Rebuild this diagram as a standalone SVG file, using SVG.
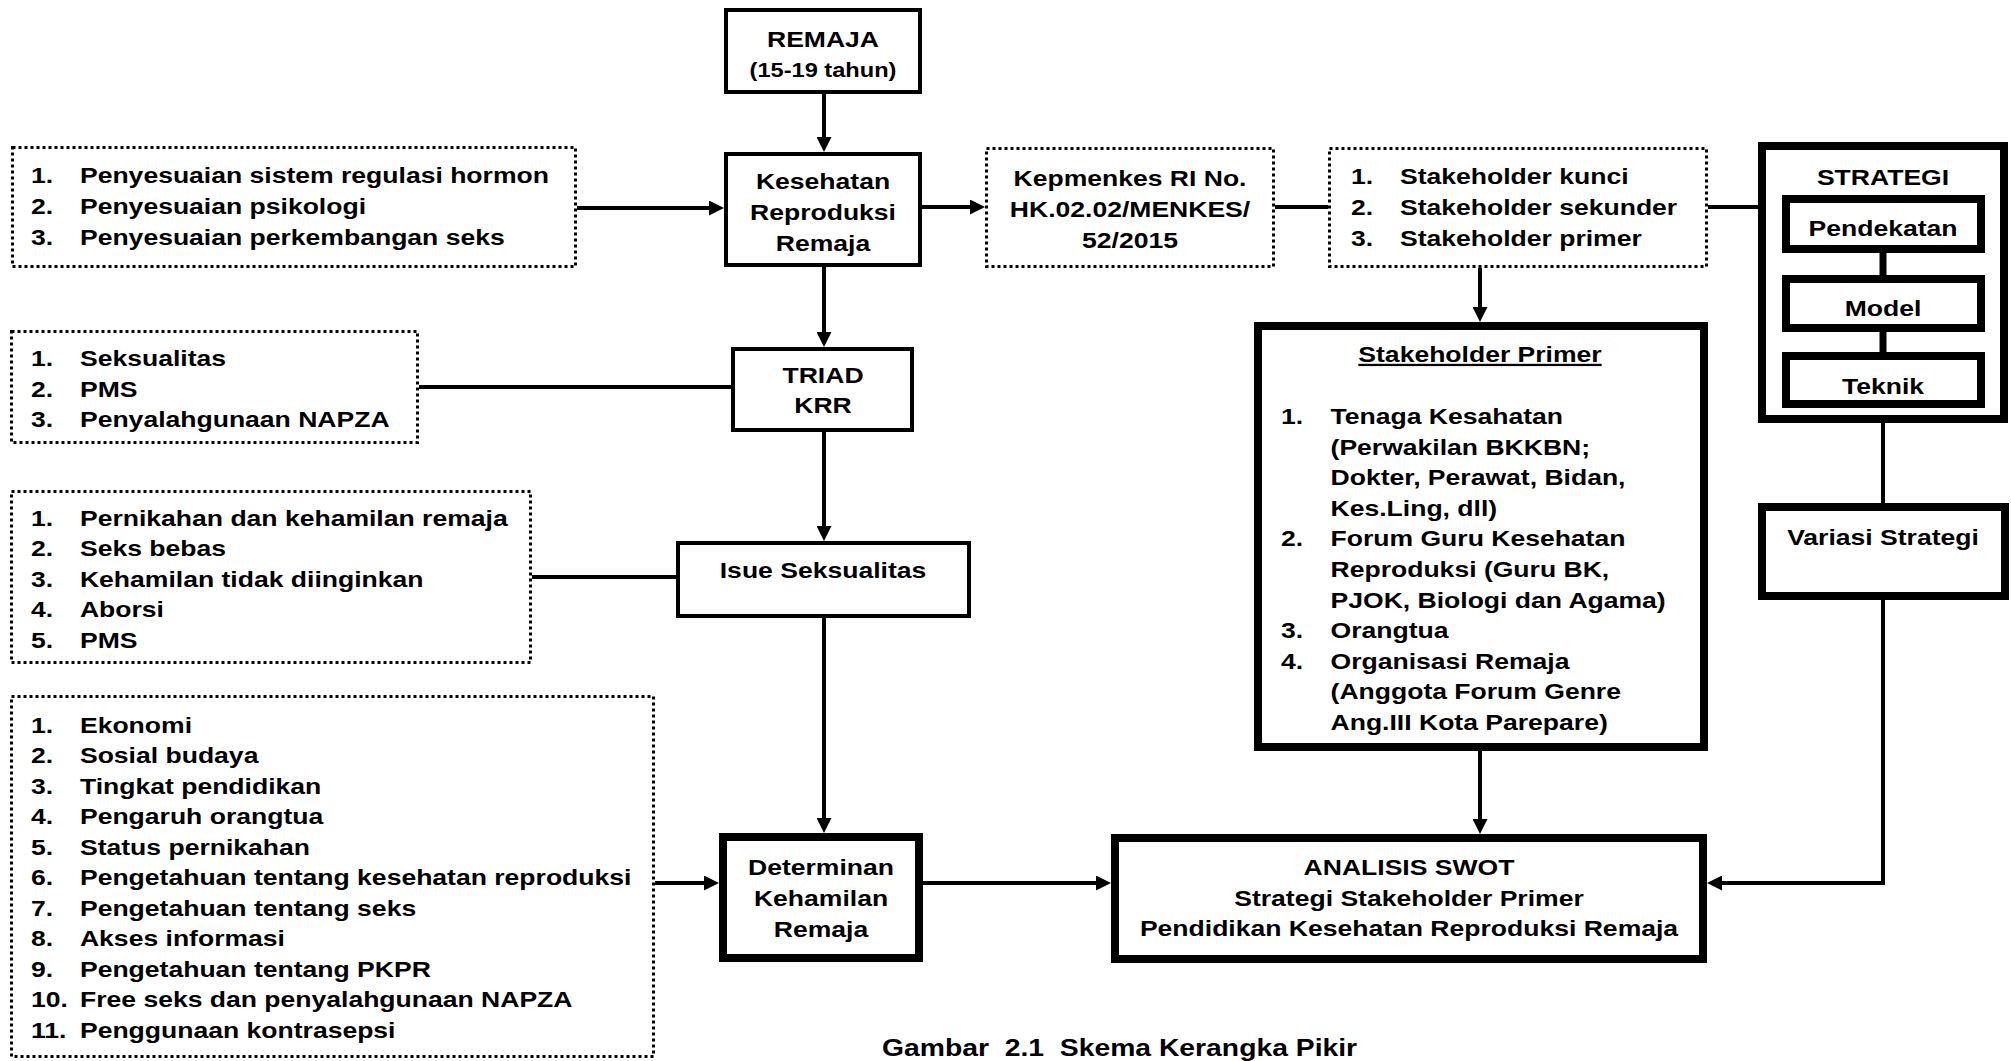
<svg xmlns="http://www.w3.org/2000/svg" width="2011" height="1061" viewBox="0 0 2011 1061">
<style>
text{font-family:"Liberation Sans",Arial,sans-serif;font-weight:bold;font-size:22.5px;fill:#000}
.c{text-anchor:middle}
.box{fill:#fff;stroke:#000;stroke-width:4}
.thick{fill:#fff;stroke:#000;stroke-width:8}
.dot{fill:#fff;stroke:#000;stroke-width:3;stroke-dasharray:3 3}
.con{fill:none;stroke:#000;stroke-width:4}
.lnk{fill:none;stroke:#000;stroke-width:7}
.arr{marker-end:url(#ah)}
.u{text-decoration:underline}
</style>
<defs>
<marker id="ah" markerUnits="userSpaceOnUse" markerWidth="15" markerHeight="15" refX="11" refY="7.5" orient="auto">
<path d="M0,0 L15,7.5 L0,15 z" fill="#000"/>
</marker>
</defs>
<rect width="2011" height="1061" fill="#fff"/>

<g id="remaja">
<rect class="box" x="726" y="10" width="194" height="82"/>
<text class="c" transform="translate(823,0) scale(1.18,1)"><tspan x="0" y="47">REMAJA</tspan><tspan x="0" y="77" style="font-size:20px">(15-19 tahun)</tspan></text>
</g>

<g id="kesehatan">
<rect class="box" x="726" y="154" width="194" height="111"/>
<text class="c" transform="translate(823,0) scale(1.18,1)"><tspan x="0" y="189">Kesehatan</tspan><tspan x="0" y="220">Reproduksi</tspan><tspan x="0" y="251">Remaja</tspan></text>
</g>

<g id="faktor-penyesuaian">
<rect class="dot" x="12.5" y="147.5" width="563" height="119"/>
<text transform="translate(31,0) scale(1.18,1)"><tspan x="0" y="183">1.</tspan><tspan x="41.5" y="183">Penyesuaian sistem regulasi hormon</tspan><tspan x="0" y="214">2.</tspan><tspan x="41.5" y="214">Penyesuaian psikologi</tspan><tspan x="0" y="245">3.</tspan><tspan x="41.5" y="245">Penyesuaian perkembangan seks</tspan></text>
</g>

<g id="kepmenkes">
<rect class="dot" x="986.5" y="148.5" width="287" height="118"/>
<text class="c" transform="translate(1130,0) scale(1.18,1)"><tspan x="0" y="186">Kepmenkes RI No.</tspan><tspan x="0" y="217">HK.02.02/MENKES/</tspan><tspan x="0" y="248">52/2015</tspan></text>
</g>

<g id="stakeholders">
<rect class="dot" x="1329.5" y="148.5" width="377" height="118"/>
<text transform="translate(1351,0) scale(1.18,1)"><tspan x="0" y="184">1.</tspan><tspan x="41.5" y="184">Stakeholder kunci</tspan><tspan x="0" y="215">2.</tspan><tspan x="41.5" y="215">Stakeholder sekunder</tspan><tspan x="0" y="246">3.</tspan><tspan x="41.5" y="246">Stakeholder primer</tspan></text>
</g>

<g id="strategi">
<rect class="thick" x="1762" y="146" width="242" height="273"/>
<text class="c" transform="translate(1883,0) scale(1.18,1)"><tspan x="0" y="185">STRATEGI</tspan></text>
</g>
<g id="pendekatan">
<rect class="thick" x="1786" y="199" width="195" height="50"/>
<text class="c" transform="translate(1883,0) scale(1.18,1)"><tspan x="0" y="236">Pendekatan</tspan></text>
</g>
<g id="model">
<rect class="thick" x="1786" y="279" width="195" height="49"/>
<text class="c" transform="translate(1883,0) scale(1.18,1)"><tspan x="0" y="316">Model</tspan></text>
</g>
<g id="teknik">
<rect class="thick" x="1786" y="356" width="195" height="48"/>
<text class="c" transform="translate(1883,0) scale(1.18,1)"><tspan x="0" y="394">Teknik</tspan></text>
<rect x="1786" y="400" width="195" height="8" fill="#000"/>
</g>

<g id="triad">
<rect class="box" x="733" y="349" width="179" height="81"/>
<text class="c" transform="translate(823,0) scale(1.18,1)"><tspan x="0" y="383">TRIAD</tspan><tspan x="0" y="413">KRR</tspan></text>
</g>

<g id="triad-list">
<rect class="dot" x="11.5" y="331.5" width="406" height="111"/>
<text transform="translate(31,0) scale(1.18,1)"><tspan x="0" y="366">1.</tspan><tspan x="41.5" y="366">Seksualitas</tspan><tspan x="0" y="397">2.</tspan><tspan x="41.5" y="397">PMS</tspan><tspan x="0" y="427">3.</tspan><tspan x="41.5" y="427">Penyalahgunaan NAPZA</tspan></text>
</g>

<g id="isue">
<rect class="box" x="678" y="543" width="291" height="73"/>
<text class="c" transform="translate(823,0) scale(1.18,1)"><tspan x="0" y="578">Isue Seksualitas</tspan></text>
</g>

<g id="isue-list">
<rect class="dot" x="11.5" y="491.5" width="519" height="171"/>
<text transform="translate(31,0) scale(1.18,1)"><tspan x="0" y="526">1.</tspan><tspan x="41.5" y="526">Pernikahan dan kehamilan remaja</tspan><tspan x="0" y="556.5">2.</tspan><tspan x="41.5" y="556.5">Seks bebas</tspan><tspan x="0" y="587">3.</tspan><tspan x="41.5" y="587">Kehamilan tidak diinginkan</tspan><tspan x="0" y="617.5">4.</tspan><tspan x="41.5" y="617.5">Aborsi</tspan><tspan x="0" y="648">5.</tspan><tspan x="41.5" y="648">PMS</tspan></text>
</g>

<g id="determinan-list">
<rect class="dot" x="11.5" y="696.5" width="642" height="360"/>
<text transform="translate(31,0) scale(1.18,1)"><tspan x="0" y="733">1.</tspan><tspan x="41.5" y="733">Ekonomi</tspan><tspan x="0" y="763.5">2.</tspan><tspan x="41.5" y="763.5">Sosial budaya</tspan><tspan x="0" y="794">3.</tspan><tspan x="41.5" y="794">Tingkat pendidikan</tspan><tspan x="0" y="824.5">4.</tspan><tspan x="41.5" y="824.5">Pengaruh orangtua</tspan><tspan x="0" y="855">5.</tspan><tspan x="41.5" y="855">Status pernikahan</tspan><tspan x="0" y="885.5">6.</tspan><tspan x="41.5" y="885.5">Pengetahuan tentang kesehatan reproduksi</tspan><tspan x="0" y="916">7.</tspan><tspan x="41.5" y="916">Pengetahuan tentang seks</tspan><tspan x="0" y="946.5">8.</tspan><tspan x="41.5" y="946.5">Akses informasi</tspan><tspan x="0" y="977">9.</tspan><tspan x="41.5" y="977">Pengetahuan tentang PKPR</tspan><tspan x="0" y="1007.5">10.</tspan><tspan x="41.5" y="1007.5">Free seks dan penyalahgunaan NAPZA</tspan><tspan x="0" y="1038">11.</tspan><tspan x="41.5" y="1038">Penggunaan kontrasepsi</tspan></text>
</g>

<g id="determinan">
<rect class="thick" x="723" y="837" width="196" height="121"/>
<text class="c" transform="translate(821,0) scale(1.18,1)"><tspan x="0" y="875">Determinan</tspan><tspan x="0" y="906">Kehamilan</tspan><tspan x="0" y="937">Remaja</tspan></text>
</g>

<g id="stakeholder-primer">
<rect class="thick" x="1258" y="326" width="446" height="421"/>
<text class="c u" transform="translate(1480,0) scale(1.18,1)"><tspan x="0" y="362">Stakeholder Primer</tspan></text>
<text transform="translate(1281,0) scale(1.18,1)"><tspan x="0" y="424">1.</tspan><tspan x="42" y="424">Tenaga Kesahatan</tspan><tspan x="42" y="454.6">(Perwakilan BKKBN;</tspan><tspan x="42" y="485.2">Dokter, Perawat, Bidan,</tspan><tspan x="42" y="515.8">Kes.Ling, dll)</tspan><tspan x="0" y="546.4">2.</tspan><tspan x="42" y="546.4">Forum Guru Kesehatan</tspan><tspan x="42" y="577">Reproduksi (Guru BK,</tspan><tspan x="42" y="607.6">PJOK, Biologi dan Agama)</tspan><tspan x="0" y="638.2">3.</tspan><tspan x="42" y="638.2">Orangtua</tspan><tspan x="0" y="668.8">4.</tspan><tspan x="42" y="668.8">Organisasi Remaja</tspan><tspan x="42" y="699.4">(Anggota Forum Genre</tspan><tspan x="42" y="730">Ang.III Kota Parepare)</tspan></text>
</g>

<g id="variasi">
<rect class="thick" x="1762" y="507" width="243" height="89"/>
<text class="c" transform="translate(1883,0) scale(1.18,1)"><tspan x="0" y="545">Variasi Strategi</tspan></text>
</g>

<g id="swot">
<rect class="thick" x="1115" y="838" width="588" height="121"/>
<text class="c" transform="translate(1409,0) scale(1.18,1)"><tspan x="0" y="875">ANALISIS SWOT</tspan><tspan x="0" y="906">Strategi Stakeholder Primer</tspan><tspan x="0" y="936">Pendidikan Kesehatan Reproduksi Remaja</tspan></text>
</g>

<g id="caption">
<text xml:space="preserve" transform="translate(882,0) scale(1.18,1)" style="font-size:24px"><tspan x="0" y="1056">Gambar  2.1  Skema Kerangka Pikir</tspan></text>
</g>

<g id="connectors">
<path class="con arr" d="M824,94 V148"/>
<path class="con arr" d="M577,208 H720"/>
<path class="con arr" d="M922,207 H981"/>
<path class="con" d="M1275,207 H1328"/>
<path class="con" d="M1708,207 H1758"/>
<path class="con arr" d="M1480,268 V318"/>
<path class="con arr" d="M824,267 V343"/>
<path class="con" d="M419,387 H731"/>
<path class="con arr" d="M824,432 V537"/>
<path class="con" d="M532,577 H676"/>
<path class="con arr" d="M824,618 V829"/>
<path class="con arr" d="M655,883 H715"/>
<path class="con arr" d="M923,883 H1107"/>
<path class="con arr" d="M1480,751 V830"/>
<path class="con" d="M1883,423 V503"/>
<path class="con arr" d="M1883,600 V883 H1711"/>
<path class="lnk" d="M1883,253 V275"/>
<path class="lnk" d="M1883,332 V352"/>
</g>
</svg>
